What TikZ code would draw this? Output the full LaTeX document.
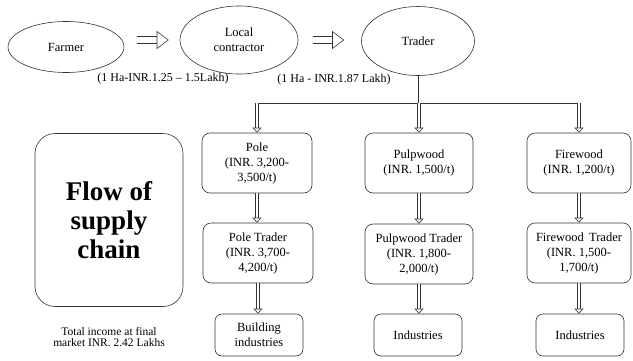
\documentclass[tikz,border=0pt]{standalone}
\usepackage{fontspec}
\setmainfont{Liberation Serif}
\usepackage{tikz}
\usetikzlibrary{shapes.geometric}
\usetikzlibrary{arrows.meta}
\tikzset{
stagenode/.style={ellipse, draw=black!80,fill=none,line width=0.6pt, inner sep=0pt, align=center, font=\fontsize{12.5}{15}\selectfont},
boxnodev1/.style={rectangle, rounded corners=8pt, draw=black!80,fill=none,line width=0.6pt, inner sep=0pt, align=center, minimum width=108pt, minimum height=60pt, font=\fontsize{12.5}{15}\selectfont},
boxnodev2/.style={rectangle, rounded corners=7pt, draw=black!80,fill=none,line width=0.6pt, inner sep=0pt, align=center, minimum width=88pt, minimum height=42pt, font=\fontsize{12.5}{15}\selectfont},
titlenode/.style={rectangle, rounded corners=20pt, draw=black!80,fill=none,line width=0.6pt, inner sep=0pt, align=center, minimum width=148pt, minimum height=173pt, font=\fontsize{27}{29}\selectfont\bfseries},
pricelabel/.style={inner sep=0pt, font=\fontsize{12}{14}\selectfont},
rightarrow/.style={draw=black!80, line width=0.6pt, double=white, double distance=6pt, -{Triangle[open, length=12pt, width=18pt, line width=0.6pt]}},
downarrow/.style={draw=black!80, line width=0.6pt, double=white, double distance=2.6pt, -{Triangle[open, length=5pt, width=9pt, line width=0.6pt]}},
}
\begin{document}
\begin{tikzpicture}[x=1pt,y=-1pt]
        \useasboundingbox (0,0) rectangle (633,360);
        % top row
        \node[stagenode, minimum width=116pt, minimum height=51pt] at (66,47) (farmer) {Farmer};
        \node[stagenode, minimum width=118pt, minimum height=68pt] at (239,40) (contractor) {Local\\contractor};
        \node[stagenode, minimum width=113pt, minimum height=69pt] at (418,41) (trader) {Trader};
        \node[pricelabel] at (163,79) (price1) {(1 Ha-INR.1.25 -- 1.5Lakh)};
        \node[pricelabel] at (334,80) (price2) {(1 Ha - INR.1.87 Lakh)};
        \draw[rightarrow, shorten <=13pt, shorten >=11pt] (farmer.east |- contractor) -- (contractor.west);
        \draw[rightarrow, shorten <=15pt, shorten >=17pt] (contractor.east) -- (trader.west |- contractor);
        % products
        \node[boxnodev1, minimum width=110pt] at (257,163) (pole) {Pole\\(INR. 3,200-\\3,500/t)};
        \node[boxnodev1] at (419,163) (pulp) {Pulpwood\\(INR. 1,500/t)};
        \node[boxnodev1, minimum width=104pt] at (579,163) (fire) {Firewood\\(INR. 1,200/t)};
        \node[boxnodev1, minimum width=110pt] at (258,253) (poletrader) {Pole Trader\\(INR. 3,700-\\4,200/t)};
        \node[boxnodev1] at (419,254) (pulptrader) {Pulpwood Trader\\(INR. 1,800-\\2,000/t)};
        \node[boxnodev1, minimum width=104pt] at (579,253) (firetrader) {Firewood\, Trader\\(INR. 1,500-\\1,700/t)};
        \node[boxnodev2] at (259,335) (building) {Building\\industries};
        \node[boxnodev2] at (418,335) (industry1) {Industries};
        \node[boxnodev2] at (580,335) (industry2) {Industries};
        \coordinate (bus) at (418,103);
        \draw[line width=0.6pt,black!80] (trader.south) -- (bus);
        \draw[line width=0.6pt,black!80] (pole.north |- bus) -- (fire.north |- bus);
        \draw[downarrow] (pole.north |- bus) -- (pole.north);
        \draw[downarrow] (pulp.north |- bus) -- (pulp.north);
        \draw[downarrow] (fire.north |- bus) -- (fire.north);
        \draw[downarrow] (pole.south) -- (pole.south |- poletrader.north);
        \draw[downarrow] (pulp.south) -- (pulp.south |- pulptrader.north);
        \draw[downarrow] (fire.south) -- (fire.south |- firetrader.north);
        \draw[downarrow] (poletrader.south) -- (poletrader.south |- building.north);
        \draw[downarrow] (pulptrader.south) -- (pulptrader.south |- industry1.north);
        \draw[downarrow] (firetrader.south) -- (firetrader.south |- industry2.north);
        % left side
        \node[titlenode] at (109,220) (title) {Flow of\\supply\\chain};
        \node[align=center, inner sep=0pt, font=\fontsize{11.5}{10.5}\selectfont] at (109,337) (total) {Total income at final\\market INR. 2.42 Lakhs};
\end{tikzpicture}
\end{document}
